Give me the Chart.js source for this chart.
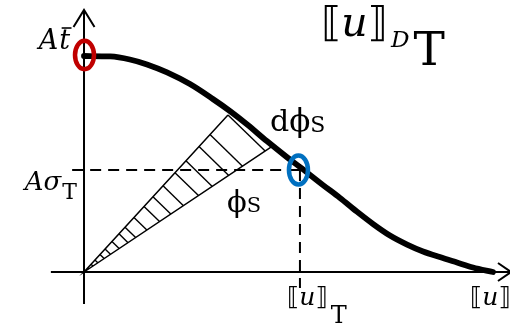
<!DOCTYPE html>
<html>
<head>
<meta charset="utf-8">
<script src="https://cdn.jsdelivr.net/npm/chart.js@4/dist/chart.umd.min.js"></script>
<style>
  html, body { margin: 0; padding: 0; background: #fff; overflow: hidden; }
  canvas { display: block; }
</style>
</head>
<body>
<canvas id="c" width="510" height="324"></canvas>
<script>
// Opening (fraction of the final opening) and cohesive traction (fraction of A·t̄)
const opening  = [0, 0.064, 0.112, 0.154, 0.203, 0.259, 0.315, 0.357, 0.399, 0.447, 0.496, 0.528,
                  0.584, 0.626, 0.667, 0.707, 0.748, 0.790, 0.829, 0.870, 0.912, 0.951, 1.0];
const traction = [1.0, 0.998, 0.984, 0.961, 0.924, 0.870, 0.801, 0.745, 0.683, 0.606, 0.532, 0.486,
                  0.403, 0.343, 0.280, 0.222, 0.169, 0.127, 0.095, 0.069, 0.044, 0.021, 0];

// Marked state on the curve: opening ⟦u⟧T and traction Aσ_T
const openingT = 0.528;
const sigmaT = 0.472;

// Hatched wedge from the origin: ends of its upper and lower rays
const wedgeUpper = { x: 0.352, y: 0.727 };
const wedgeLower = { x: 0.459, y: 0.580 };
// Hatch lines, as fractions along the upper ray; each reaches the lower ray at hatchReach of that fraction
const hatchFractions = [1, 0.875, 0.799, 0.708, 0.632, 0.549, 0.479, 0.417, 0.347, 0.285,
                        0.243, 0.194, 0.146, 0.111, 0.076, 0.049];
const hatchReach = 0.965;

// Extents of the drawn axes and of the whole view
const xAxisRange = [-0.081, 1.044];
const yAxisRange = [-0.148, 1.213];
const xView = [-0.2054, 1.0416];
const yView = [-0.2407, 1.2593];
const guideStartX = -0.029;
const guideEndY = -0.074;

const RED = '#C00000';
const BLUE = '#0070C0';
const SERIF = '"DejaVu Serif", "DejaVu Sans", serif';

function line(points, width, extra) {
  return Object.assign({
    data: points,
    showLine: true,
    borderColor: '#000',
    backgroundColor: '#000',
    borderWidth: width,
    pointRadius: 0,
    pointHoverRadius: 0,
    fill: false,
    tension: 0
  }, extra || {});
}

const datasets = [];

// softening curve
datasets.push(line(opening.map((x, i) => ({ x, y: traction[i] })), 5.8,
  { cubicInterpolationMode: 'monotone', borderCapStyle: 'round' }));

// axes
datasets.push(line([{ x: 0, y: yAxisRange[0] }, { x: 0, y: yAxisRange[1] }], 2));
datasets.push(line([{ x: xAxisRange[0], y: 0 }, { x: xAxisRange[1], y: 0 }], 2));

// wedge rays
datasets.push(line([wedgeUpper, { x: 0, y: 0 }, wedgeLower], 1.5));

// hatching inside the wedge
hatchFractions.forEach(t => {
  datasets.push(line([
    { x: t * wedgeUpper.x, y: t * wedgeUpper.y },
    { x: t * hatchReach * wedgeLower.x, y: t * hatchReach * wedgeLower.y }
  ], 1.4));
});

// dashed guides to the marked state
datasets.push(line([{ x: guideStartX, y: sigmaT }, { x: openingT, y: sigmaT }], 2, { borderDash: [11, 7] }));
datasets.push(line([{ x: openingT, y: sigmaT }, { x: openingT, y: guideEndY }], 2, { borderDash: [11, 7] }));

// Draws a row of text runs; returns the x extent of every run
function drawRuns(ctx, x, y, parts, align) {
  let total = 0;
  parts.forEach(p => { ctx.font = p.f; total += ctx.measureText(p.s).width + (p.dx || 0); });
  let cx = align === 'right' ? x - total : x;
  const spans = [];
  parts.forEach(p => {
    ctx.font = p.f;
    cx += (p.dx || 0);
    ctx.fillText(p.s, cx, y + (p.dy || 0));
    const w = ctx.measureText(p.s).width;
    spans.push({ x0: cx, x1: cx + w });
    cx += w;
  });
  return spans;
}

const decorations = {
  id: 'decorations',
  afterDatasetsDraw(chart) {
    const ctx = chart.ctx;
    const sx = chart.scales.x, sy = chart.scales.y;
    const px = v => sx.getPixelForValue(v);
    const py = v => sy.getPixelForValue(v);

    ctx.save();
    // open arrow heads at the axis ends
    ctx.strokeStyle = '#000';
    ctx.lineWidth = 2;
    ctx.lineJoin = 'miter';
    const yTipX = px(0), yTipY = py(yAxisRange[1]);
    ctx.beginPath();
    ctx.moveTo(yTipX - 10.5, yTipY + 17);
    ctx.lineTo(yTipX, yTipY);
    ctx.lineTo(yTipX + 10.5, yTipY + 17);
    ctx.stroke();
    const xTipX = px(xAxisRange[1]), xTipY = py(0);
    ctx.beginPath();
    ctx.moveTo(xTipX - 13, xTipY - 9);
    ctx.lineTo(xTipX, xTipY);
    ctx.lineTo(xTipX - 13, xTipY + 9);
    ctx.stroke();

    // highlighted points
    ctx.lineWidth = 4.5;
    ctx.strokeStyle = RED;
    ctx.beginPath();
    ctx.ellipse(px(0) + 0.5, py(traction[0]) - 1, 9.5, 14.3, 0, 0, Math.PI * 2);
    ctx.stroke();
    ctx.strokeStyle = BLUE;
    ctx.beginPath();
    ctx.ellipse(px(openingT) - 1.5, py(sigmaT), 9.5, 14.5, 0, 0, Math.PI * 2);
    ctx.stroke();
    ctx.restore();
  },
  afterDraw(chart) {
    const ctx = chart.ctx;
    const sx = chart.scales.x, sy = chart.scales.y;
    const px = v => sx.getPixelForValue(v);
    const py = v => sy.getPixelForValue(v);
    ctx.save();
    ctx.fillStyle = '#000';
    ctx.strokeStyle = '#000';
    ctx.textBaseline = 'alphabetic';
    const it = s => 'italic ' + s + 'px ' + SERIF;
    const up = s => s + 'px ' + SERIF;

    // peak traction label A t̄, with the bar set over the t
    const baseA = py(traction[0]) - 7;
    const peak = drawRuns(ctx, px(0) - 14, baseA,
      [{ s: 'A', f: it(27) }, { s: 't', f: it(27), dx: 1 }], 'right');
    ctx.lineWidth = 1.6;
    ctx.beginPath();
    ctx.moveTo(peak[1].x0 + 2.5, baseA - 21);
    ctx.lineTo(peak[1].x1 + 1.5, baseA - 21);
    ctx.stroke();

    // traction at the marked state
    drawRuns(ctx, px(0) - 7, py(sigmaT) + 20,
      [{ s: 'A', f: it(26) }, { s: 'σ', f: it(26) }, { s: 'T', f: up(22), dy: 9, dx: 1 }], 'right');

    // critical opening title
    drawRuns(ctx, 321, 36,
      [{ s: '⟦', f: up(41) }, { s: 'u', f: it(41) }, { s: '⟧', f: up(41) },
       { s: 'D', f: it(23), dy: 11, dx: 3 }, { s: 'T', f: up(47), dy: 29, dx: 4 }], 'left');

    // angle labels
    drawRuns(ctx, px(openingT) - 30, py(sigmaT) - 39,
      [{ s: 'd', f: up(30) }, { s: 'ϕ', f: up(31) }, { s: 'S', f: up(22), dy: 1 }], 'left');
    drawRuns(ctx, 227, py(sigmaT) + 42,
      [{ s: 'ϕ', f: up(29) }, { s: 'S', f: up(21), dy: 0 }], 'left');

    // opening labels under the axis
    drawRuns(ctx, px(openingT) - 13, py(0) + 33,
      [{ s: '⟦', f: up(25) }, { s: 'u', f: it(25) }, { s: '⟧', f: up(25) }, { s: 'T', f: up(24), dy: 18, dx: 3 }], 'left');
    drawRuns(ctx, px(1.0) - 23, py(0) + 33,
      [{ s: '⟦', f: up(25) }, { s: 'u', f: it(25) }, { s: '⟧', f: up(25) }], 'left');
    ctx.restore();
  }
};

new Chart(document.getElementById('c'), {
  type: 'scatter',
  data: { datasets },
  options: {
    responsive: false,
    animation: false,
    devicePixelRatio: 1,
    layout: { padding: 0 },
    plugins: { legend: { display: false }, tooltip: { enabled: false } },
    events: [],
    scales: {
      x: { type: 'linear', min: xView[0], max: xView[1], display: false },
      y: { type: 'linear', min: yView[0], max: yView[1], display: false }
    }
  },
  plugins: [decorations]
});
</script>
</body>
</html>
